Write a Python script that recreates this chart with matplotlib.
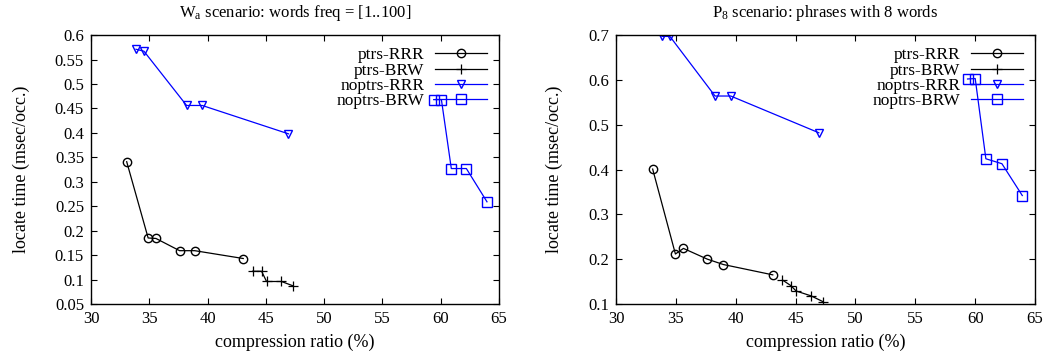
import matplotlib
matplotlib.use("Agg")
import matplotlib.pyplot as plt

plt.rcParams['font.family'] = ['Liberation Serif', 'DejaVu Serif']
plt.rcParams['mathtext.fontset'] = 'custom'
plt.rcParams['mathtext.rm'] = 'Liberation Serif'
plt.rcParams['mathtext.it'] = 'Liberation Serif:italic'

# left panel: W_a scenario
wa_ptrs_rrr_x = [33.06, 34.9, 35.57, 37.6, 38.9, 43.06]
wa_ptrs_rrr_y = [0.341, 0.185, 0.184, 0.159, 0.159, 0.143]
wa_ptrs_brw_x = [43.86, 44.63, 45.06, 46.34, 47.34]
wa_ptrs_brw_y = [0.117, 0.117, 0.096, 0.096, 0.087]
wa_noptrs_rrr_x = [33.86, 34.54, 38.2, 39.54, 46.94]
wa_noptrs_rrr_y = [0.571, 0.567, 0.456, 0.456, 0.398]
wa_noptrs_brw_x = [59.4, 60.06, 60.91, 62.2, 63.97]
wa_noptrs_brw_y = [0.468, 0.468, 0.327, 0.327, 0.259]

# right panel: P_8 scenario
p8_ptrs_rrr_x = [33.06, 34.96, 35.63, 37.63, 38.97, 43.09]
p8_ptrs_rrr_y = [0.401, 0.2115, 0.224, 0.200, 0.188, 0.165]
p8_ptrs_brw_x = [43.9, 44.6, 45.04, 46.3, 47.3]
p8_ptrs_brw_y = [0.1535, 0.141, 0.129, 0.118, 0.105]
p8_noptrs_rrr_x = [33.84, 34.5, 38.27, 39.58, 46.94]
p8_noptrs_rrr_y = [0.697, 0.697, 0.564, 0.564, 0.482]
p8_noptrs_brw_x = [59.36, 60.0, 60.89, 62.23, 63.93]
p8_noptrs_brw_y = [0.602, 0.603, 0.424, 0.413, 0.342]

labels = ['ptrs-RRR', 'ptrs-BRW', 'noptrs-RRR', 'noptrs-BRW']

wa_yticks = [0.05, 0.1, 0.15, 0.2, 0.25, 0.3, 0.35, 0.4, 0.45, 0.5, 0.55, 0.6]
wa_ytick_labels = ['0.05', '0.1', '0.15', '0.2', '0.25', '0.3', '0.35', '0.4',
                   '0.45', '0.5', '0.55', '0.6']
p8_yticks = [0.1, 0.2, 0.3, 0.4, 0.5, 0.6, 0.7]
p8_ytick_labels = ['0.1', '0.2', '0.3', '0.4', '0.5', '0.6', '0.7']
xticks = [30, 35, 40, 45, 50, 55, 60, 65]

fig = plt.figure(figsize=(10.45, 3.6), dpi=100)
ax1 = fig.add_axes([0.0871, 0.1556, 0.3904, 0.747])
ax2 = fig.add_axes([0.5895, 0.1556, 0.401, 0.747])

blue = '#0000ff'


def draw(ax, series, yticks, ylabels, ylim, title):
    styles = [
        dict(color='black', marker='o', mfc='none', ms=6),
        dict(color='black', marker='+', ms=7, mew=0.9),
        dict(color=blue, marker='v', mfc='none', ms=6),
        dict(color=blue, marker='s', mfc='none', ms=7),
    ]
    for (x, y), lab, st in zip(series, labels, styles):
        ax.plot(x, y, lw=0.9, label=lab, **st)
    ax.set_xlim(30, 65)
    ax.set_ylim(*ylim)
    ax.set_xticks(xticks)
    ax.set_yticks(yticks)
    ax.set_yticklabels(ylabels)
    ax.tick_params(direction='in', top=True, right=True, labelsize=12,
                   length=4.5, width=0.8, pad=5)
    for sp in ax.spines.values():
        sp.set_linewidth(1.0)
    ax.set_xlabel('compression ratio (%)', fontsize=13, labelpad=5)
    ax.set_ylabel('locate time (msec/occ.)', fontsize=13, labelpad=18)
    ax.set_title(title, fontsize=12, pad=13)
    ax.legend(loc='upper right', frameon=False, markerfirst=False,
              fontsize=12.5, handlelength=3.0, labelspacing=-0.05,
              borderaxespad=0.3, handletextpad=0.6)


draw(ax1,
     [(wa_ptrs_rrr_x, wa_ptrs_rrr_y), (wa_ptrs_brw_x, wa_ptrs_brw_y),
      (wa_noptrs_rrr_x, wa_noptrs_rrr_y), (wa_noptrs_brw_x, wa_noptrs_brw_y)],
     wa_yticks, wa_ytick_labels, (0.05, 0.6),
     r'W$_\mathrm{a}$ scenario: words freq = [1..100]')
draw(ax2,
     [(p8_ptrs_rrr_x, p8_ptrs_rrr_y), (p8_ptrs_brw_x, p8_ptrs_brw_y),
      (p8_noptrs_rrr_x, p8_noptrs_rrr_y), (p8_noptrs_brw_x, p8_noptrs_brw_y)],
     p8_yticks, p8_ytick_labels, (0.1, 0.7),
     r'P$_\mathrm{8}$ scenario: phrases with 8 words')

fig.savefig('out.png', dpi=100)
